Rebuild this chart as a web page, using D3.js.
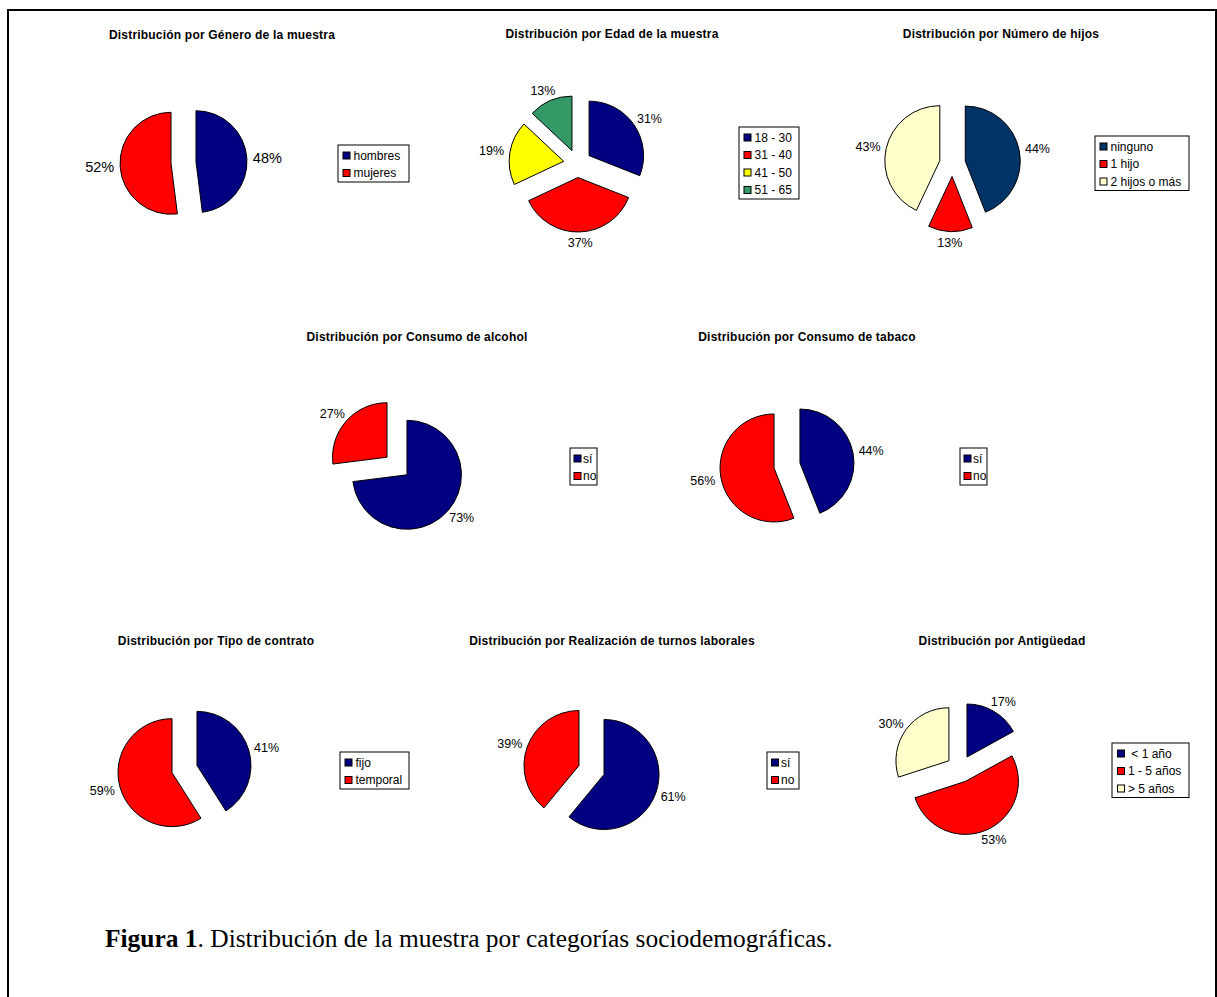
<!DOCTYPE html>
<html>
<head>
<meta charset="utf-8">
<script src="https://cdn.jsdelivr.net/npm/d3@7"></script>
<style>
  html, body { margin: 0; padding: 0; background: #fff; }
  svg { display: block; }
  text { font-family: "Liberation Sans", Arial, Helvetica, sans-serif; fill: #000; }
</style>
</head>
<body>
<svg id="fig" width="1217" height="997"></svg>
<script>
// ---- Datos ----
const generoCategorias = ["hombres", "mujeres"];
const generoValores = [48, 52];

const edadCategorias = ["18 - 30", "31 - 40", "41 - 50", "51 - 65"];
const edadValores = [31, 37, 19, 13];

const hijosCategorias = ["ninguno", "1 hijo", "2 hijos o más"];
const hijosValores = [44, 13, 43];

const alcoholCategorias = ["sí", "no"];
const alcoholValores = [73, 27];

const tabacoCategorias = ["sí", "no"];
const tabacoValores = [44, 56];

const contratoCategorias = ["fijo", "temporal"];
const contratoValores = [41, 59];

const turnosCategorias = ["sí", "no"];
const turnosValores = [61, 39];

const antiguedadCategorias = ["\u00a0< 1 año", "1 - 5 años", "> 5 años"];
const antiguedadValores = [17, 53, 30];

const titulos = [
  "Distribución por Género de la muestra",
  "Distribución por Edad de la muestra",
  "Distribución por Número de hijos",
  "Distribución por Consumo de alcohol",
  "Distribución por Consumo de tabaco",
  "Distribución por Tipo de contrato",
  "Distribución por Realización de turnos laborales",
  "Distribución por Antigüedad"
];

// ---- Colores ----
const NAVY = "#000080", RED = "#FF0000", YELLOW = "#FFFF00", GREEN = "#339966",
      CREAM = "#FFFFCC", DARKBLUE = "#003366";

// ---- Disposición de cada gráfico ----
// lt: sangría del texto de la leyenda; ls: sangría del cuadro de color
const graficos = [
  { title: titulos[0], cats: generoCategorias, vals: generoValores, colors: [NAVY, RED],
    cx: 183.5, cy: 162.5, r: 51, explode: 12.5, tx: 222, ty: 35,
    lx: 338, ly: 145, lw: 71, ls: 5, lt: 15.5, labelSize: 14.5 },
  { title: titulos[1], cats: edadCategorias, vals: edadValores, colors: [NAVY, RED, YELLOW, GREEN],
    cx: 577.5, cy: 163.5, r: 54.5, explode: 14, tx: 612, ty: 34,
    lx: 739, ly: 127, lw: 60, ls: 5, lt: 15.5, labelSize: 12.5 },
  { title: titulos[2], cats: hijosCategorias, vals: hijosValores, colors: [DARKBLUE, RED, CREAM],
    cx: 952.5, cy: 163.5, r: 55, explode: 13, tx: 1001, ty: 34,
    lx: 1095, ly: 136, lw: 94, ls: 5, lt: 15.5, labelSize: 12.5 },
  { title: titulos[3], cats: alcoholCategorias, vals: alcoholValores, colors: [NAVY, RED],
    cx: 397, cy: 466, r: 54.5, explode: 13.3, tx: 417, ty: 337,
    lx: 570, ly: 448, lw: 27, ls: 4, lt: 13, labelSize: 12.5 },
  { title: titulos[4], cats: tabacoCategorias, vals: tabacoValores, colors: [NAVY, RED],
    cx: 787, cy: 465.5, r: 54, explode: 13.2, tx: 807, ty: 337,
    lx: 960, ly: 448, lw: 27, ls: 4, lt: 13, labelSize: 12.5 },
  { title: titulos[5], cats: contratoCategorias, vals: contratoValores, colors: [NAVY, RED],
    cx: 184.5, cy: 769, r: 54, explode: 13, tx: 216, ty: 641,
    lx: 340, ly: 752, lw: 69, ls: 5, lt: 15.5, labelSize: 12.5 },
  { title: titulos[6], cats: turnosCategorias, vals: turnosValores, colors: [NAVY, RED],
    cx: 591.5, cy: 770, r: 55, explode: 13.3, tx: 612, ty: 641,
    lx: 767, ly: 752, lw: 32, ls: 4.5, lt: 14, labelSize: 12.5 },
  { title: titulos[7], cats: antiguedadCategorias, vals: antiguedadValores, colors: [NAVY, RED, CREAM],
    cx: 960, cy: 768.8, r: 53, explode: 13.7, tx: 1002, ty: 641,
    lx: 1112, ly: 743, lw: 77, ls: 5.5, lt: 16, labelSize: 12.5 }
];

const svg = d3.select("#fig");

// Marco exterior
svg.append("rect")
  .attr("x", 8).attr("y", 10)
  .attr("width", 1208).attr("height", 1000)
  .attr("fill", "none").attr("stroke", "#000").attr("stroke-width", 2);

const pie = d3.pie().sort(null).value(d => d);

graficos.forEach(g => {
  const grp = svg.append("g");

  // Título
  grp.append("text")
    .attr("x", g.tx).attr("y", g.ty)
    .attr("dy", "0.35em")
    .attr("text-anchor", "middle")
    .style("font-size", "12px").style("font-weight", "bold")
    .style("letter-spacing", "0.2px")
    .text(g.title);

  const arc = d3.arc().innerRadius(0).outerRadius(g.r);
  const arcs = pie(g.vals);

  arcs.forEach((a, i) => {
    const mid = (a.startAngle + a.endAngle) / 2;
    const dx = Math.sin(mid), dy = -Math.cos(mid);
    const ax = g.cx + g.explode * dx, ay = g.cy + g.explode * dy;

    grp.append("path")
      .attr("d", arc(a))
      .attr("transform", `translate(${ax},${ay})`)
      .attr("fill", g.colors[i])
      .attr("stroke", "#000").attr("stroke-width", 1)
      .attr("stroke-linejoin", "round");

    // Etiqueta de porcentaje fuera del sector
    const lbl = grp.append("text")
      .attr("text-anchor", "middle")
      .attr("dy", "0.35em")
      .style("font-size", g.labelSize + "px")
      .text(g.vals[i] + "%");
    const hw = lbl.node().getComputedTextLength() / 2;
    const hh = g.labelSize * 0.4;
    const gap = 6;
    lbl.attr("x", ax + dx * (g.r + gap) + dx * hw)
       .attr("y", ay + dy * (g.r + gap) + dy * hh);
  });

  // Leyenda
  const rowH = 17.5, padTop = 10.5, padBot = 9;
  const n = g.cats.length;
  const lh = padTop + (n - 1) * rowH + padBot;
  const leg = grp.append("g").attr("transform", `translate(${g.lx},${g.ly})`);
  leg.append("rect")
    .attr("x", 0).attr("y", 0).attr("width", g.lw).attr("height", lh)
    .attr("fill", "#fff").attr("stroke", "#000").attr("stroke-width", 1);
  g.cats.forEach((c, i) => {
    const yc = padTop + i * rowH;
    leg.append("rect")
      .attr("x", g.ls).attr("y", yc - 3.5).attr("width", 7).attr("height", 7)
      .attr("fill", g.colors[i]).attr("stroke", "#000").attr("stroke-width", 1);
    leg.append("text")
      .attr("x", g.lt).attr("y", yc).attr("dy", "0.35em")
      .style("font-size", "12px")
      .text(c);
  });
});

// Pie de figura
const cap = svg.append("text")
  .attr("x", 105).attr("y", 947)
  .style("font-family", "'Liberation Serif', 'Times New Roman', Times, serif")
  .style("font-size", "20px");
cap.append("tspan").style("font-weight", "bold").text("Figura 1");
cap.append("tspan").text(". Distribución de la muestra por categorías sociodemográficas.");
const w = cap.node().getComputedTextLength();
cap.style("font-size", (20 * 728 / w).toFixed(2) + "px");
</script>
</body>
</html>
